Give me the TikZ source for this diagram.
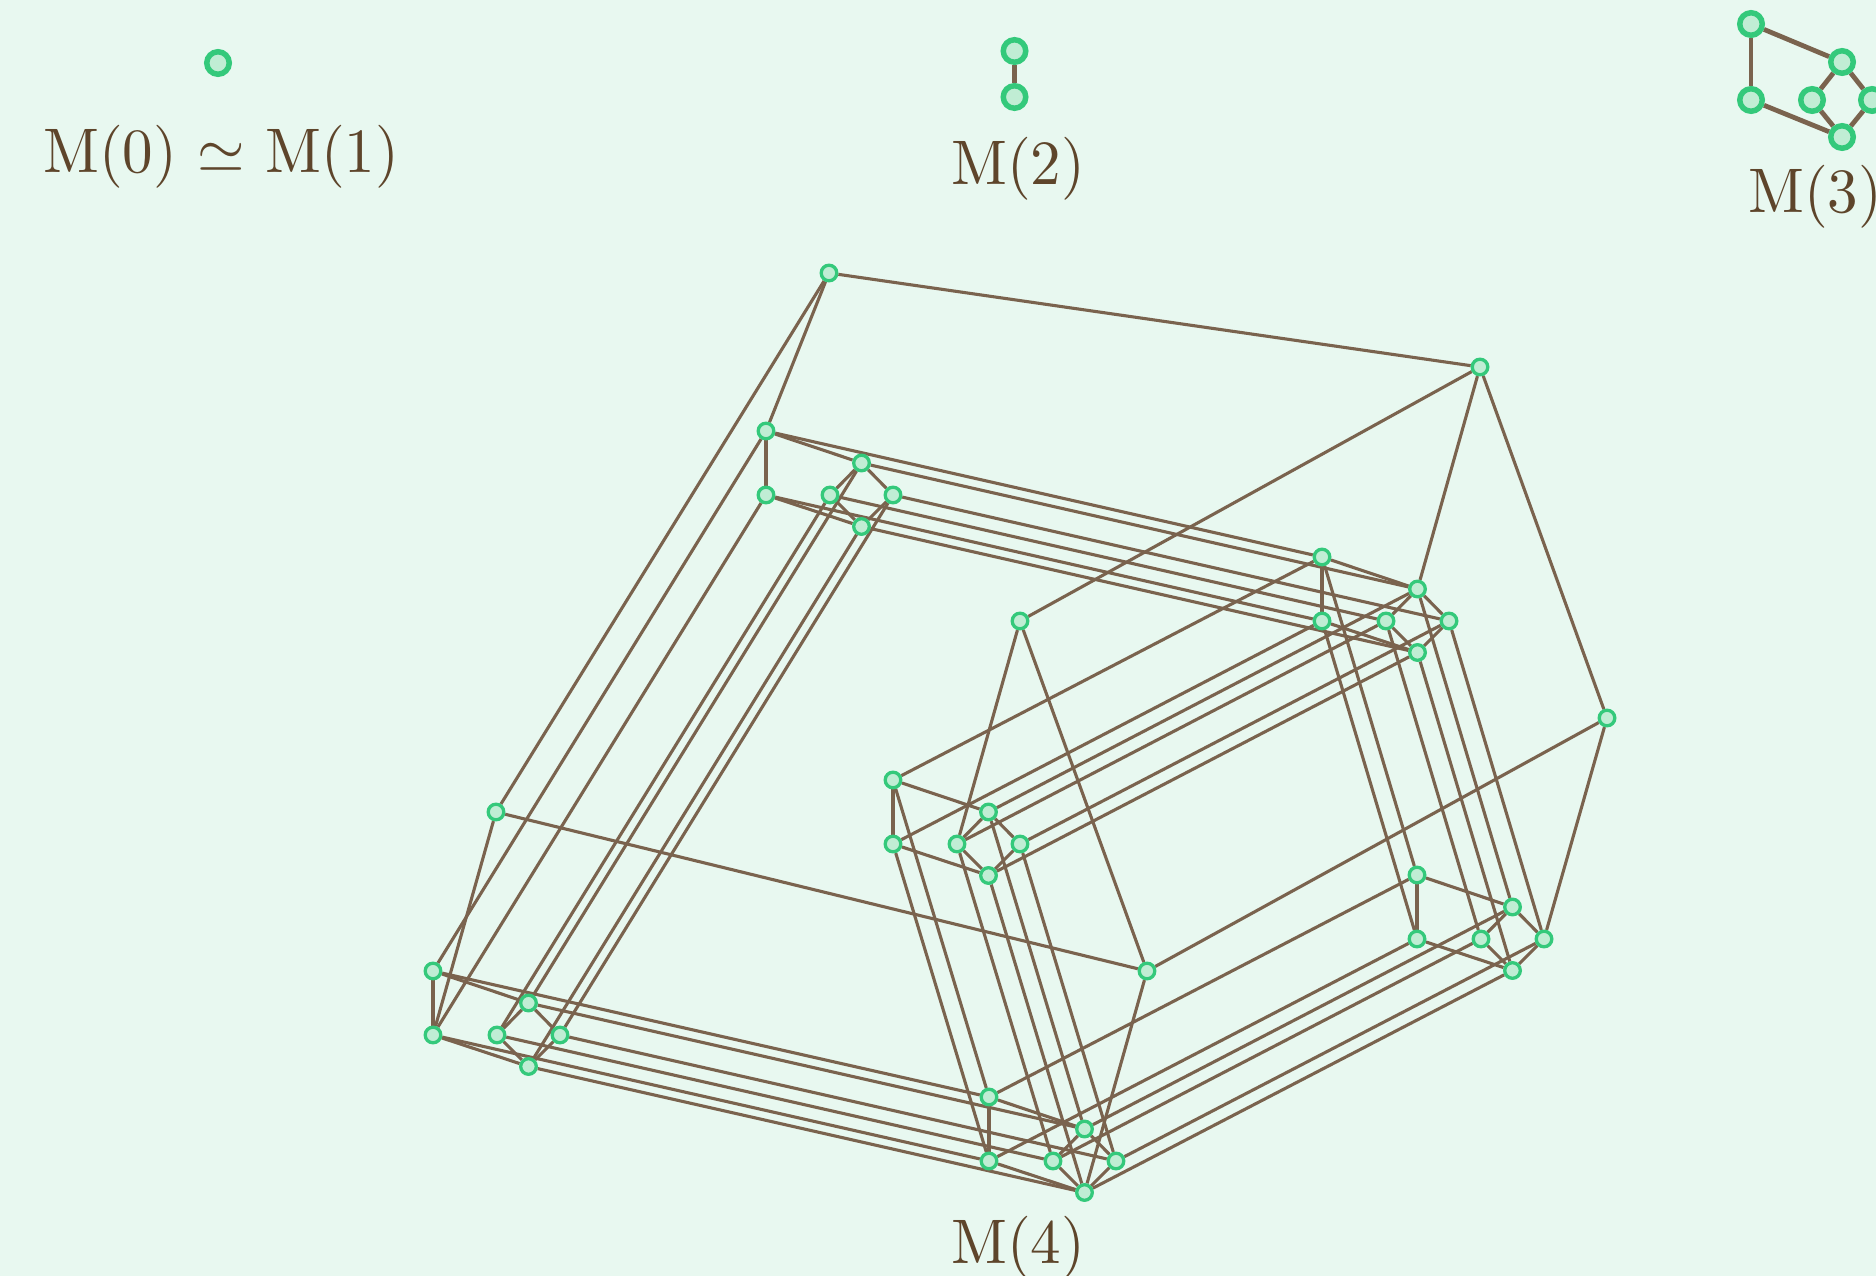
\documentclass[tikz,border=0pt]{standalone}
\usepackage{graphicx}
\usetikzlibrary{
  positioning,
  backgrounds
}
\definecolor{hsBg}{HTML}{E8F8F0}
\definecolor{hsRing}{HTML}{34C97B}
\definecolor{hsFill}{HTML}{C0EDD4}
\definecolor{hsEdge}{HTML}{7A634E}
\definecolor{hsText}{HTML}{5E452B}
\newcommand{\mlabel}[1]{\scalebox{6.1}[6.3]{\normalsize #1}}

\begin{document}
\begin{tikzpicture}[
  x=1pt, y=-1pt,
  every node/.style={text=hsText},
  lbl/.style={anchor=base west, inner sep=0pt},
  vtx/.style={
    circle, draw=hsRing, fill=hsFill, line width=3.3pt,
    minimum size=15.6pt, inner sep=0pt
  },
  bigvtx/.style={
    circle, draw=hsRing, fill=hsFill, line width=5.5pt,
    minimum size=22.5pt, inner sep=0pt
  },
  edge/.style={draw=hsEdge, line width=3.1pt},
  bigedge/.style={draw=hsEdge, line width=4.8pt}
]
 \useasboundingbox (0,0) rectangle (1876,1276);

 % M(0) and M(1) -- one vertex
 \node[bigvtx] (z) at (218,63) {};
 \node[lbl] (zlabel) at (43,173) {\mlabel{M(0) $\simeq$ M(1)}};

 % M(2) -- two vertices
 \node[bigvtx] (ta) at (1014.5,51) {};
 \node[bigvtx] (tb) at (1014.5,97) {};
 \node[lbl] (tlabel) at (951,185) {\mlabel{M(2)}};

 % M(3) -- six vertices, the last one runs off the page
 \node[bigvtx] (s-a) at (1751,24) {};
 \node[bigvtx] (s-b) at (1751,100) {};
 \node[bigvtx] (s-c) at (1842,62) {};
 \node[bigvtx] (s-d) at (1812,100) {};
 \node[bigvtx] (s-e) at (1872,100) {};
 \node[bigvtx] (s-f) at (1842,137) {};
 \node[lbl] (slabel) at (1748,212) {\mlabel{M(3)}};

 % M(4) -- outer six vertices
 \node[vtx] (oa) at (829,273) {};
 \node[vtx] (ob) at (496,812) {};
 \node[vtx] (oc) at (1480,367) {};
 \node[vtx] (od) at (1020,621) {};
 \node[vtx] (oe) at (1607,718) {};
 \node[vtx] (of) at (1147,971) {};
 \node[lbl] (olabel) at (951,1263) {\mlabel{M(4)}};

 % M(4) -- six inner copies of M(3)
 \foreach \clu/\cx/\cy in {ca/766/431, cb/433/971, cc/1322/557, cd/893/780, ce/1417/875, cf/989/1097}{
   \foreach \pos/\dx/\dy in {a/0/0, b/0/64, c/95.5/32, d/64/64, e/127/64, f/95.5/95.5}{
     \node[vtx] (\clu-\pos) at ({\cx+\dx},{\cy+\dy}) {};
   }
 }

 \begin{scope}[on background layer]
  \fill[hsBg] (0,0) rectangle (1876,1276);

  \draw[bigedge] (ta) -- (tb);
  \foreach \u/\v in {a/b, a/c, b/f, c/d, c/e, d/f, e/f}{
    \draw[bigedge] (s-\u) -- (s-\v);
    \draw[edge] (o\u) -- (o\v);
    % inside every copy
    \foreach \clu in {ca, cb, cc, cd, ce, cf}{
      \draw[edge] (\clu-\u) -- (\clu-\v);
    }
    % between the copies
    \foreach \pos in {a, b, c, d, e, f}{
      \draw[edge] (c\u-\pos) -- (c\v-\pos);
    }
  }
  % outer vertex to its copy
  \foreach \pos in {a, b, c, d, e, f}{
    \draw[edge] (o\pos) -- (c\pos-\pos);
  }
 \end{scope}
\end{tikzpicture}
\end{document}
